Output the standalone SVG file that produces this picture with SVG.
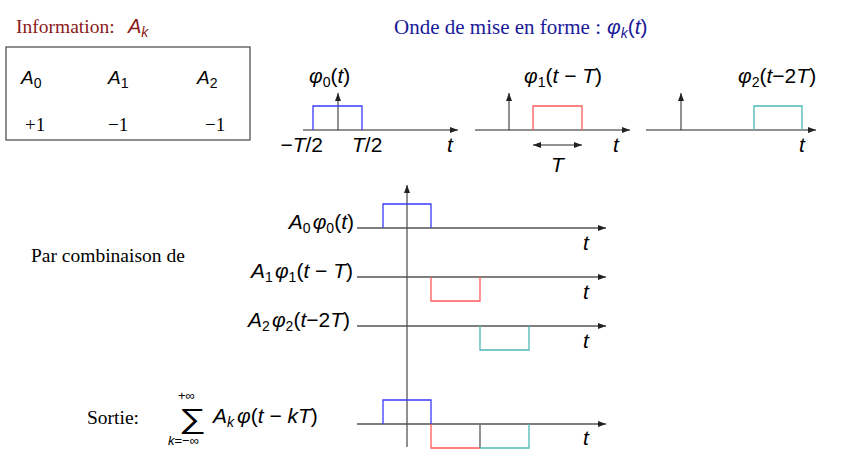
<svg xmlns="http://www.w3.org/2000/svg" width="841" height="457" viewBox="0 0 841 457">
<defs>
<marker id="ah" viewBox="0 0 8 6" markerWidth="8" markerHeight="6" refX="8" refY="3" orient="auto-start-reverse" markerUnits="userSpaceOnUse"><path d="M0,0 L8,3 L0,6 z" fill="#222"/></marker>
<style>
.txt{font-family:"Liberation Serif",serif;font-size:19.5px;fill:#000}
.m{font-family:"Liberation Sans",sans-serif;font-size:21px;fill:#000}
.i{font-style:italic}
.s{font-size:14px}
.xs{font-size:13px}
.ax{stroke:#222;stroke-width:1;fill:none}
.hx{stroke:#555;stroke-width:1.6;fill:none}
.blue{stroke:#3a3aff;stroke-width:1.3;fill:none}
.red{stroke:#ff5a5a;stroke-width:1.3;fill:none}
.cyan{stroke:#4db8b8;stroke-width:1.3;fill:none}
</style>
</defs>
<rect width="841" height="457" fill="#fff"/>

<g id="info">
<text class="txt" x="16" y="33" style="fill:#8b1a1a;font-size:19.5px">Information:</text>
<text class="m" x="128" y="33" style="fill:#8b1a1a;font-size:20px"><tspan class="i">A</tspan><tspan class="i s" dy="4">k</tspan></text>
<rect x="6" y="47" width="244" height="93" fill="none" stroke="#444" stroke-width="1.2"/>
<text class="m" x="21" y="84" style="font-size:19px"><tspan class="i">A</tspan><tspan class="s" dy="4">0</tspan></text>
<text class="m" x="108" y="84" style="font-size:19px"><tspan class="i">A</tspan><tspan class="s" dy="4">1</tspan></text>
<text class="m" x="197" y="84" style="font-size:19px"><tspan class="i">A</tspan><tspan class="s" dy="4">2</tspan></text>
<text class="txt" x="25" y="131" style="font-size:19px">+1</text>
<text class="txt" x="108" y="131" style="font-size:19px">−1</text>
<text class="txt" x="205" y="131" style="font-size:19px">−1</text>
</g>

<g id="title">
<text class="txt" x="394" y="34" style="fill:#1a1a99;font-size:21px">Onde de mise en forme :</text>
<text class="m" x="607" y="34" style="fill:#1a1a99"><tspan class="i">φ</tspan><tspan class="i s" dy="4">k</tspan><tspan dy="-4">(</tspan><tspan class="i">t</tspan><tspan>)</tspan></text>
</g>

<g id="plot-phi0">
<line class="ax" x1="303" y1="130" x2="458" y2="130" marker-end="url(#ah)"/>
<line class="ax" x1="338" y1="130" x2="338" y2="93" marker-end="url(#ah)"/>
<polyline class="blue" points="313,130 313,106 362,106 362,130"/>
<text class="m" x="309" y="83"><tspan class="i">φ</tspan><tspan class="s" dy="4">0</tspan><tspan dy="-4">(</tspan><tspan class="i">t</tspan><tspan>)</tspan></text>
<text class="m" x="323" y="152" text-anchor="end">−<tspan class="i">T</tspan>/2</text>
<text class="m" x="352" y="152"><tspan class="i">T</tspan>/2</text>
<text class="m i" x="447" y="152">t</text>
</g>

<g id="plot-phi1">
<line class="ax" x1="475" y1="130" x2="630" y2="130" marker-end="url(#ah)"/>
<line class="ax" x1="509" y1="130" x2="509" y2="93" marker-end="url(#ah)"/>
<polyline class="red" points="533,130 533,106 582,106 582,130"/>
<line class="ax" x1="533" y1="145" x2="582" y2="145" marker-start="url(#ah)" marker-end="url(#ah)"/>
<text class="m i" x="551" y="172">T</text>
<text class="m" x="524" y="83"><tspan class="i">φ</tspan><tspan class="s" dy="4">1</tspan><tspan dy="-4">(</tspan><tspan class="i">t</tspan> − <tspan class="i">T</tspan>)</text>
<text class="m i" x="613" y="152">t</text>
</g>

<g id="plot-phi2">
<line class="ax" x1="646" y1="130" x2="816" y2="130" marker-end="url(#ah)"/>
<line class="ax" x1="681" y1="130" x2="681" y2="93" marker-end="url(#ah)"/>
<polyline class="cyan" points="754,130 754,106 802,106 802,130"/>
<text class="m" x="738" y="83"><tspan class="i">φ</tspan><tspan class="s" dy="4">2</tspan><tspan dy="-4">(</tspan><tspan class="i">t</tspan>−2<tspan class="i">T</tspan>)</text>
<text class="m i" x="799" y="152">t</text>
</g>

<g id="combination">
<text class="txt" x="31" y="262">Par combinaison de</text>
<line class="ax" x1="407" y1="447" x2="407" y2="185" marker-end="url(#ah)"/>
<line class="hx" x1="357" y1="228" x2="606" y2="228" marker-end="url(#ah)"/>
<line class="hx" x1="357" y1="277" x2="606" y2="277" marker-end="url(#ah)"/>
<line class="hx" x1="357" y1="326" x2="606" y2="326" marker-end="url(#ah)"/>
<polyline class="blue" points="383,228 383,204 431,204 431,228"/>
<polyline class="red" points="431,277 431,301 480,301 480,277"/>
<polyline class="cyan" points="480,326 480,350 529,350 529,326"/>
<text class="m" x="354" y="229" text-anchor="end"><tspan class="i">A</tspan><tspan class="s" dy="4">0</tspan><tspan class="i" dy="-4" dx="2">φ</tspan><tspan class="s" dy="4">0</tspan><tspan dy="-4">(</tspan><tspan class="i">t</tspan>)</text>
<text class="m" x="353" y="278" text-anchor="end"><tspan class="i">A</tspan><tspan class="s" dy="4">1</tspan><tspan class="i" dy="-4" dx="2">φ</tspan><tspan class="s" dy="4">1</tspan><tspan dy="-4">(</tspan><tspan class="i">t</tspan> − <tspan class="i">T</tspan>)</text>
<text class="m" x="350" y="327" text-anchor="end"><tspan class="i">A</tspan><tspan class="s" dy="4">2</tspan><tspan class="i" dy="-4" dx="2">φ</tspan><tspan class="s" dy="4">2</tspan><tspan dy="-4">(</tspan><tspan class="i">t</tspan>−2<tspan class="i">T</tspan>)</text>
<text class="m i" x="583" y="250">t</text>
<text class="m i" x="583" y="299">t</text>
<text class="m i" x="583" y="348">t</text>
</g>

<g id="output">
<text class="txt" x="87" y="424">Sortie:</text>
<text class="m" transform="translate(179,428) scale(1.35,1)" style="font-size:28px">∑</text>
<text class="m xs" x="178" y="400">+∞</text>
<text class="m xs" x="168" y="445"><tspan class="i">k</tspan>=−∞</text>
<text class="m" x="213" y="423"><tspan class="i">A</tspan><tspan class="i s" dy="4">k</tspan><tspan class="i" dy="-4" dx="3">φ</tspan>(<tspan class="i">t</tspan> − <tspan class="i">kT</tspan>)</text>
<line class="hx" x1="357" y1="424" x2="606" y2="424" marker-end="url(#ah)"/>
<polyline class="blue" points="383,424 383,400 431,400 431,424"/>
<polyline class="red" points="431,424 431,448 480,448"/>
<line x1="480" y1="424" x2="480" y2="448" stroke="#777" stroke-width="1.6"/>
<polyline class="cyan" points="480,448 529,448 529,424"/>
<text class="m i" x="583" y="445">t</text>
</g>
</svg>
